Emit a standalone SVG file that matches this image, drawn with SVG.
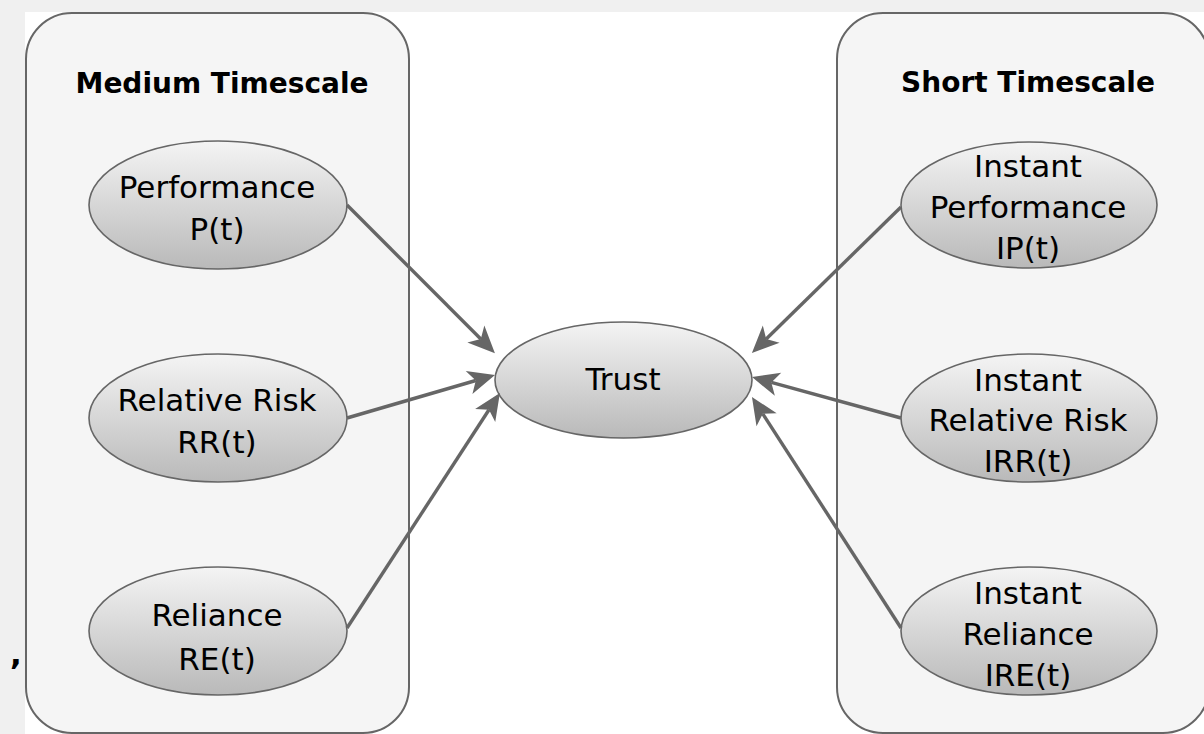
<svg xmlns="http://www.w3.org/2000/svg" width="1204" height="734" viewBox="0 0 1204 734">
<style>
.cont{fill:#f5f5f5;stroke:#666666;stroke-width:2}
.node{fill:url(#g);stroke:#666666;stroke-width:1.6}
.t{font-family:"Comic Sans MS","DejaVu Sans",sans-serif;font-size:31px;fill:#000;text-anchor:middle}
.h{font-family:"Comic Sans MS","DejaVu Sans",sans-serif;font-size:28px;font-weight:bold;fill:#000;text-anchor:middle}
.e{fill:none;stroke:#666666;stroke-width:3.4;marker-end:url(#arr)}
</style>
<defs>
<linearGradient id="g" x1="0" y1="0" x2="0" y2="1">
<stop offset="0" stop-color="#f4f4f4"/>
<stop offset="1" stop-color="#b9b9b9"/>
</linearGradient>
<marker id="arr" markerUnits="userSpaceOnUse" markerWidth="27" markerHeight="24" viewBox="0 0 27 24" refX="7" refY="12" orient="auto" overflow="visible">
<path d="M0,0 L27,12 L0,24 L7,12 Z" fill="#666666"/>
</marker>
</defs>
<rect x="0" y="0" width="1204" height="734" fill="#f0f0f0"/>
<rect x="25" y="12" width="1179" height="722" fill="#ffffff"/>
<text x="10" y="665" class="t" style="text-anchor:start;font-weight:bold">,</text>
<g id="medium">
<rect class="cont" x="26" y="13" width="383" height="720" rx="46" ry="46"/>
<text class="h" x="222" y="93">Medium Timescale</text>
</g>
<g id="short">
<rect class="cont" x="837" y="13" width="372" height="720" rx="46" ry="46"/>
<text class="h" x="1028" y="92">Short Timescale</text>
</g>
<g id="performance">
<ellipse class="node" cx="218" cy="205" rx="129" ry="64"/>
<text class="t" x="217" y="198">Performance</text>
<text class="t" x="217" y="240">P(t)</text>
</g>
<g id="relative-risk">
<ellipse class="node" cx="218" cy="418" rx="129" ry="64"/>
<text class="t" x="217" y="411">Relative Risk</text>
<text class="t" x="217" y="453">RR(t)</text>
</g>
<g id="reliance">
<ellipse class="node" cx="218" cy="631" rx="129" ry="64"/>
<text class="t" x="217" y="626">Reliance</text>
<text class="t" x="217" y="670">RE(t)</text>
</g>
<g id="trust">
<ellipse class="node" cx="623.5" cy="380" rx="128.5" ry="58"/>
<text class="t" x="623" y="390">Trust</text>
</g>
<g id="instant-performance">
<ellipse class="node" cx="1029" cy="205" rx="128" ry="63"/>
<text class="t" x="1028" y="177">Instant</text>
<text class="t" x="1028" y="218">Performance</text>
<text class="t" x="1028" y="259">IP(t)</text>
</g>
<g id="instant-relative-risk">
<ellipse class="node" cx="1029" cy="418" rx="128" ry="64"/>
<text class="t" x="1028" y="391">Instant</text>
<text class="t" x="1028" y="431">Relative Risk</text>
<text class="t" x="1028" y="472">IRR(t)</text>
</g>
<g id="instant-reliance">
<ellipse class="node" cx="1029" cy="631" rx="128" ry="64"/>
<text class="t" x="1028" y="604">Instant</text>
<text class="t" x="1028" y="645">Reliance</text>
<text class="t" x="1028" y="686">IRE(t)</text>
</g>
<g id="connectors">
<path class="e" d="M347,205 L480.8,339"/>
<path class="e" d="M347,418 L475.8,380.5"/>
<path class="e" d="M347,628 L489,409.7"/>
<path class="e" d="M901,207 L766.2,339"/>
<path class="e" d="M901,418 L771.3,382.4"/>
<path class="e" d="M901,628 L762.8,413.8"/>
</g>
</svg>
